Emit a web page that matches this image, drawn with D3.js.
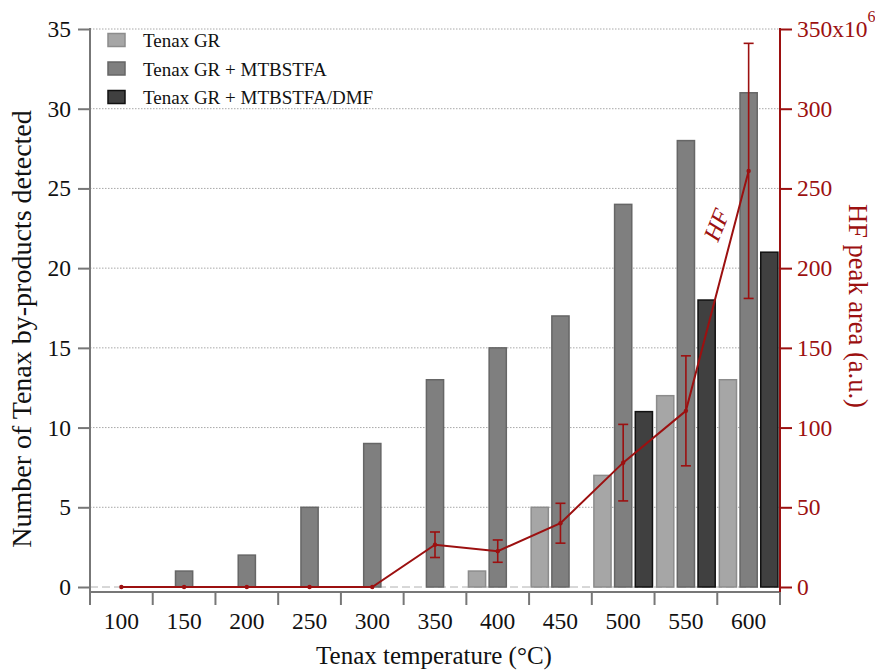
<!DOCTYPE html>
<html><head><meta charset="utf-8">
<script src="https://cdn.jsdelivr.net/npm/d3@7"></script>
<style>
body{margin:0;background:#fff;}
svg{display:block;font-family:"Liberation Serif","Times New Roman",serif;}
</style></head>
<body><svg id="chart" width="875" height="670"></svg>
<script>
const categories = ["100","150","200","250","300","350","400","450","500","550","600"];
const seriesNames = ["Tenax GR","Tenax GR + MTBSTFA","Tenax GR + MTBSTFA/DMF"];
const tenaxGR      = [0,0,0,0,0,0,1,5,7,12,13];
const tenaxMTBSTFA = [0,1,2,5,9,13,15,17,24,28,31];
const tenaxDMF     = [0,0,0,0,0,0,0,0,11,18,21];
const hfArea  = [0,0,0,0,0,26.5,22.5,40,78,110.5,261];   // x10^6
const hfError = [0,0,0,0,0,8,7,12.5,24,34.5,80];
const leftTicks  = [0,5,10,15,20,25,30,35];
const rightTicks = [0,50,100,150,200,250,300,350];

const fills   = ["#a6a6a6","#7f7f7f","#404040"];
const strokes = ["#8c8c8c","#666666","#111111"];
const red = "#9c1010";

const svg = d3.select("#chart");
const X0 = 90, X1 = 780, Y0 = 587, Y1 = 29;

const x = d3.scaleBand().domain(categories).range([X0, X1]).padding(0);
const sub = d3.scaleBand().domain([0,1,2]).range([0, x.bandwidth()]).paddingInner(0.17).paddingOuter(0.1);
const yL = d3.scaleLinear().domain([0,35]).range([Y0, Y1]);
const yR = d3.scaleLinear().domain([0,350]).range([Y0, Y1]);

// gridlines
svg.append("g").selectAll("line").data(leftTicks.filter(d=>d>0)).join("line")
  .attr("x1", X0).attr("x2", X1).attr("y1", d=>yL(d)).attr("y2", d=>yL(d))
  .attr("stroke","#a8a8a8").attr("stroke-width",1).attr("stroke-dasharray","1.5,1.5");
svg.append("line").attr("x1",X0).attr("x2",X1).attr("y1",yL(0)).attr("y2",yL(0))
  .attr("stroke","#b0b0b0").attr("stroke-width",1).attr("stroke-dasharray","8,4");

// bars
const seriesVals = [tenaxGR, tenaxMTBSTFA, tenaxDMF];
seriesVals.forEach((vals, s) => {
  svg.append("g").selectAll("rect").data(vals).join("rect")
    .attr("x", (d,i) => x(categories[i]) + sub(s))
    .attr("width", sub.bandwidth())
    .attr("y", d => yL(d))
    .attr("height", d => yL(0) - yL(d))
    .attr("fill", fills[s]).attr("stroke", strokes[s]).attr("stroke-width", 1.5);
});

// HF line + error bars
const hfData = hfArea.map((v,i)=>({v, e:hfError[i], c:categories[i]}));
const eb = svg.append("g").attr("stroke", red).attr("stroke-width", 1.6);
hfData.filter(d=>d.e>0).forEach(d=>{
  const px = x(d.c) + x.bandwidth()/2;
  eb.append("line").attr("x1",px).attr("x2",px).attr("y1",yR(d.v-d.e)).attr("y2",yR(d.v+d.e));
  eb.append("line").attr("x1",px-5).attr("x2",px+5).attr("y1",yR(d.v-d.e)).attr("y2",yR(d.v-d.e));
  eb.append("line").attr("x1",px-5).attr("x2",px+5).attr("y1",yR(d.v+d.e)).attr("y2",yR(d.v+d.e));
});
svg.append("path").datum(hfData)
  .attr("d", d3.line().x(d=>x(d.c)+x.bandwidth()/2).y(d=>yR(d.v)))
  .attr("fill","none").attr("stroke",red).attr("stroke-width",2);
svg.append("g").selectAll("circle").data(hfData).join("circle")
  .attr("cx", d=>x(d.c)+x.bandwidth()/2).attr("cy", d=>yR(d.v)).attr("r",2.2).attr("fill",red);

// left axis
const gL = svg.append("g").attr("transform",`translate(${X0},0)`)
  .call(d3.axisLeft(yL).tickValues(leftTicks).tickSize(12).tickPadding(7));
gL.select(".domain").attr("stroke","#777").attr("stroke-width",2).attr("d",`M0,${Y1-1}V${Y0+5}`);
gL.selectAll(".tick line").attr("stroke","#777").attr("stroke-width",2);
gL.selectAll(".tick text").attr("font-size",23.5).attr("fill","#111").attr("font-family","Liberation Serif, serif");

// bottom axis
const gB = svg.append("g").attr("transform",`translate(0,${Y0+5})`);
gB.append("line").attr("x1",X0-1).attr("x2",X1).attr("y1",0).attr("y2",0).attr("stroke","#777").attr("stroke-width",2);
const bounds = categories.map(c=>x(c)).concat([X1]);
gB.selectAll("line.t").data(bounds).join("line").attr("class","t")
  .attr("x1",d=>d).attr("x2",d=>d).attr("y1",0).attr("y2",13).attr("stroke","#777").attr("stroke-width",2);
gB.selectAll("text").data(categories).join("text")
  .attr("x", c=>x(c)+x.bandwidth()/2).attr("y",37).attr("text-anchor","middle")
  .attr("font-size",23.5).attr("fill","#111").text(c=>c);

// right axis
const gR = svg.append("g").attr("transform",`translate(${X1},0)`)
  .call(d3.axisRight(yR).tickValues(rightTicks).tickSize(12).tickPadding(5));
gR.select(".domain").attr("stroke",red).attr("stroke-width",2).attr("d",`M0,${Y1-1}V${Y0+5}`);
gR.selectAll(".tick line").attr("stroke",red).attr("stroke-width",2);
gR.selectAll(".tick text").attr("font-size",23.5).attr("fill",red).attr("font-family","Liberation Serif, serif")
  .each(function(d){
    if(d===350){
      const t=d3.select(this); t.text("350x10");
      t.append("tspan").attr("dy",-15).attr("font-size",16).text("6");
    }
  });

// axis titles
svg.append("text").attr("x",(X0+X1)/2 - 1).attr("y",664).attr("text-anchor","middle")
  .attr("font-size",25).attr("fill","#111").text("Tenax temperature (°C)");
svg.append("text").attr("transform",`translate(31,329) rotate(-90)`).attr("text-anchor","middle")
  .attr("font-size",28).attr("fill","#111").text("Number of Tenax by-products detected");
svg.append("text").attr("transform",`translate(849,306) rotate(90)`).attr("text-anchor","middle")
  .attr("font-size",26.5).attr("fill",red).text("HF peak area (a.u.)");

// HF label
svg.append("text").attr("transform","translate(724,228) rotate(-68)").attr("text-anchor","middle")
  .attr("font-size",24).attr("font-style","italic").attr("fill",red).text("HF");

// legend
const lg = svg.append("g");
seriesNames.forEach((n,i)=>{
  const yy = 40 + i*28.5;
  lg.append("rect").attr("x",108).attr("y",yy-6.5).attr("width",17).attr("height",13)
    .attr("fill",fills[i]).attr("stroke",strokes[i]).attr("stroke-width",1.5);
  lg.append("text").attr("x",143).attr("y",yy+7).attr("font-size",19).attr("fill","#111").text(n);
});
</script></body></html>
